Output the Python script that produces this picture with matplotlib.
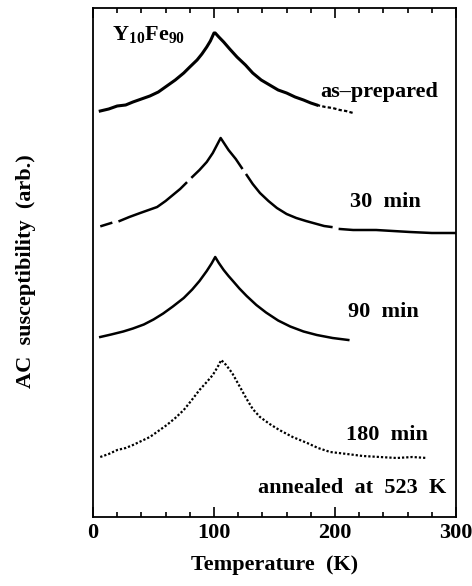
import numpy as np
import matplotlib.pyplot as plt
from matplotlib.ticker import MultipleLocator

plt.rcParams['font.family'] = ['Liberation Serif', 'DejaVu Serif']
plt.rcParams['font.weight'] = 'bold'
plt.rcParams['mathtext.fontset'] = 'custom'
plt.rcParams['mathtext.rm'] = 'Liberation Serif:bold'
plt.rcParams['mathtext.bf'] = 'Liberation Serif:bold'

# as-prepared (curves are offset vertically, arbitrary units)
asprep_T = [6, 13, 20, 27, 33, 40, 47, 54, 61, 68, 75, 80, 86, 90, 94, 97, 100,
            101, 104, 108, 113, 119, 126, 132, 139, 146, 153, 160, 167, 174, 180, 185]
asprep_chi = [406, 408, 411, 412, 415, 418, 421, 425, 431, 437, 444, 450, 457, 463, 470, 476, 484,
              484, 480, 475, 468, 460, 452, 444, 437, 432, 427, 424, 420, 417, 414, 412]
asprep_tail_T = [185, 192, 198, 204, 209, 215]
asprep_tail_chi = [412, 410, 409, 407, 406, 404]

# 30 min (gaps in the trace kept as NaN)
t30_T = [7, 15, np.nan, 22, 30, 39, 46, 53, 60, 66, 72, 77, np.nan, 82, 88, 94, 99, 105.5,
         112, 118, 123, np.nan, 127, 132, 138, 145, 152, 160, 168, 176, 185, 191, 197, np.nan,
         204, 215, 234, 248, 262, 280, 299]
t30_chi = [291, 294, np.nan, 296, 300, 304, 307, 310, 316, 322, 328, 334, np.nan, 340, 347, 355, 364, 379,
           367, 358, 349, np.nan, 342, 333, 324, 316, 309, 303, 299, 296, 293, 291, 290, np.nan,
           288, 287, 287, 286, 285, 284, 284]

# 90 min
t90_T = [6, 15, 25, 33, 42, 50, 58, 66, 75, 82, 88, 94, 98, 101,
         104, 108, 112, 116, 121, 127, 135, 143, 153, 163, 174, 185, 198, 211]
t90_chi = [180, 182.5, 185.5, 188.5, 192.5, 197.5, 203.5, 210.5, 219, 227.5, 236, 246, 253.5, 260,
           254, 247, 241, 235.5, 228.5, 221, 212, 204.5, 196.5, 190.5, 185.5, 182, 179, 177]

# 180 min
t180_T = [6, 13, 20, 27, 33, 40, 47, 54, 61, 68, 75, 81, 88, 94, 99, 103, 106,
          110, 115, 121, 127, 132, 138, 146, 154, 165, 177, 186, 196, 210, 223, 237, 251, 264, 276]
t180_chi = [60, 63, 67, 69, 72, 76, 80, 86, 92, 99, 107, 116, 127, 135, 142, 150, 157,
            152, 144, 131, 118, 108, 100, 93, 87, 80, 74, 69, 65, 63, 61, 60, 59, 60, 59]

fig = plt.figure(figsize=(4.72, 5.86), dpi=100)
ax = fig.add_axes([93 / 472, 69 / 586, 363 / 472, 509 / 586])

ax.plot(asprep_T, asprep_chi, color='black', lw=2.2)
ax.plot(asprep_tail_T, asprep_tail_chi, color='black', lw=1.6, ls=(0, (1.5, 1)))
ax.plot(t30_T, t30_chi, color='black', lw=1.8)
ax.plot(t90_T, t90_chi, color='black', lw=1.8)
ax.plot(t180_T, t180_chi, color='black', lw=1.6, ls=(0, (1.0, 0.9)))

ax.set_xlim(0, 300)
ax.set_ylim(0, 509)
ax.set_yticks([])
ax.xaxis.set_major_locator(MultipleLocator(100))
ax.xaxis.set_minor_locator(MultipleLocator(20))
ax.tick_params(axis='x', which='both', direction='in', top=True, bottom=True,
               labelsize=16, width=1.2, pad=4)
ax.tick_params(axis='x', which='major', length=7)
ax.tick_params(axis='x', which='minor', length=3.5)
for s in ax.spines.values():
    s.set_linewidth(1.3)

ax.set_xlabel('Temperature  (K)', fontsize=16, fontweight='bold', labelpad=9)
fig.text(26 / 472, 1 - 271 / 586, 'AC  susceptibility  (arb.)', rotation=90,
         fontsize=16, fontweight='bold', ha='center', va='center')

ax.text(16, 482, r'Y$_{\mathbf{10}}$Fe$_{\mathbf{90}}$', fontsize=16, fontweight='bold', va='center')
ax.text(188, 425, 'as–prepared', fontsize=16, fontweight='bold', va='center')
ax.text(212, 315, '30  min', fontsize=16, fontweight='bold', va='center')
ax.text(211, 205, '90  min', fontsize=16, fontweight='bold', va='center')
ax.text(209, 82, '180  min', fontsize=16, fontweight='bold', va='center')
ax.text(292, 29, 'annealed  at  523  K', fontsize=16, fontweight='bold', va='center', ha='right')

fig.savefig('out.png', dpi=100)
